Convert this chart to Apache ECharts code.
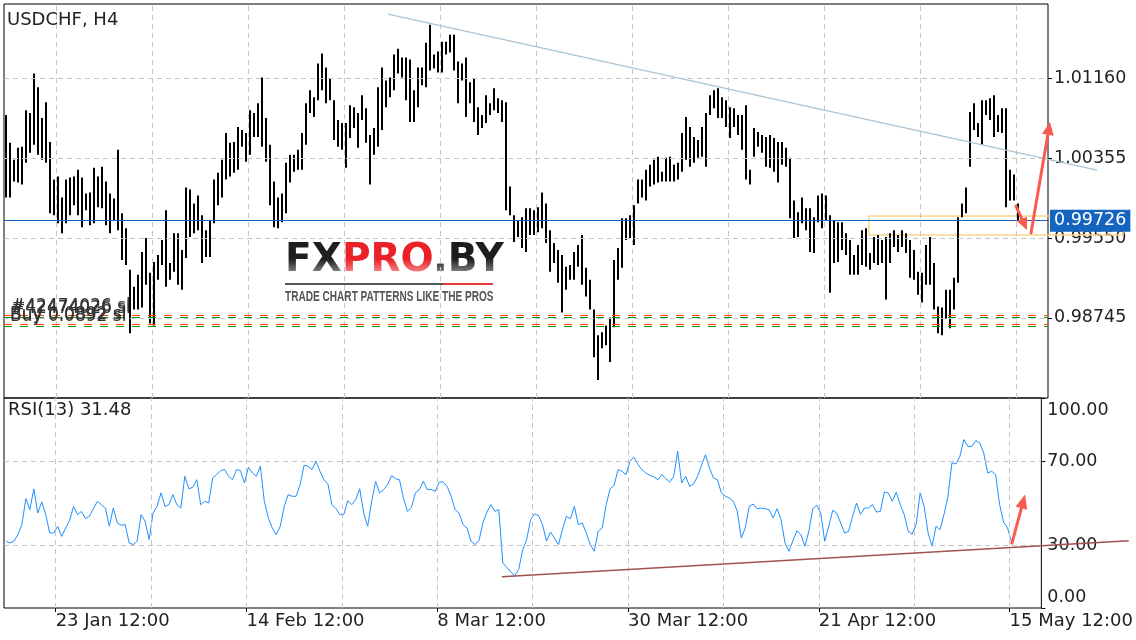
<!DOCTYPE html>
<html>
<head>
<meta charset="utf-8">
<script src="https://cdn.jsdelivr.net/npm/echarts@6/dist/echarts.min.js"></script>
<style>html,body{margin:0;padding:0;background:#fff}#chart{width:1136px;height:640px}</style>
</head>
<body>
<div id="chart"></div>
<script>
// ---- data (each bar = 2 H4 periods) ----
const barHigh = [
1.0079,1.0051,1.0034,1.0046,1.0047,1.0084,1.0081,1.0121,1.0107,1.0076,
1.0092,1.0052,1.0014,1.0017,0.9996,1.0014,1.0016,1.0017,1.0024,1.0016,
1.0000,1.0001,1.0026,1.0017,1.0027,1.0012,1.0000,0.9995,1.0044,0.9980,
0.9965,0.9923,0.9906,0.9918,0.9941,0.9955,0.9920,0.9931,0.9938,0.9953,
0.9983,0.9930,0.9960,0.9960,0.9943,1.0006,1.0004,0.9990,0.9998,0.9978,
0.9963,0.9973,1.0014,1.0021,1.0034,1.0061,1.0051,1.0052,1.0067,1.0064,
1.0061,1.0084,1.0081,1.0091,1.0117,1.0076,1.0049,1.0012,0.9996,1.0000,
1.0031,1.0039,1.0039,1.0044,1.0061,1.0091,1.0104,1.0097,1.0131,1.0141,
1.0127,1.0116,1.0094,1.0074,1.0071,1.0071,1.0089,1.0087,1.0081,1.0099,
1.0086,1.0059,1.0066,1.0107,1.0127,1.0114,1.0117,1.0140,1.0146,1.0137,
1.0137,1.0135,1.0104,1.0127,1.0127,1.0152,1.0170,1.0140,1.0143,1.0153,
1.0153,1.0160,1.0160,1.0133,1.0131,1.0137,1.0112,1.0116,1.0087,1.0079,
1.0099,1.0091,1.0106,1.0096,1.0094,1.0092,1.0007,0.9978,0.9973,0.9976,
0.9985,0.9985,0.9983,0.9986,1.0001,0.9990,0.9963,0.9950,0.9943,0.9938,
0.9926,0.9928,0.9941,0.9948,0.9958,0.9925,0.9913,0.9883,0.9857,0.9860,
0.9867,0.9875,0.9933,0.9945,0.9975,0.9975,0.9978,0.9988,1.0014,1.0014,
1.0024,1.0029,1.0034,1.0037,1.0022,1.0036,1.0037,1.0029,1.0031,1.0061,
1.0077,1.0067,1.0057,1.0054,1.0067,1.0081,1.0099,1.0104,1.0106,1.0097,
1.0094,1.0087,1.0086,1.0079,1.0079,1.0089,1.0024,1.0066,1.0062,1.0059,
1.0057,1.0059,1.0056,1.0052,1.0052,1.0046,1.0036,0.9993,0.9981,0.9996,
0.9985,0.9985,0.9976,0.9998,1.0000,0.9998,0.9978,0.9973,0.9971,0.9971,
0.9960,0.9953,0.9938,0.9948,0.9963,0.9965,0.9940,0.9956,0.9958,0.9953,
0.9956,0.9960,0.9963,0.9958,0.9963,0.9960,0.9953,0.9943,0.9921,0.9920,
0.9948,0.9956,0.9930,0.9886,0.9885,0.9903,0.9903,0.9915,0.9976,0.9990,
1.0006,1.0082,1.0091,1.0071,1.0094,1.0094,1.0096,1.0099,1.0079,1.0086,
1.0086,1.0024,1.0019,0.9990];
const barLow = [
0.9996,0.9996,1.0012,1.0011,1.0009,1.0031,1.0041,1.0049,1.0039,1.0034,
1.0031,0.9980,0.9978,0.9970,0.9960,0.9970,0.9978,0.9988,0.9978,0.9966,
0.9983,0.9968,0.9970,0.9986,0.9985,0.9968,0.9960,0.9973,0.9963,0.9933,
0.9928,0.9859,0.9883,0.9883,0.9885,0.9908,0.9869,0.9867,0.9913,0.9928,
0.9906,0.9913,0.9921,0.9908,0.9903,0.9935,0.9956,0.9960,0.9963,0.9930,
0.9936,0.9936,0.9970,0.9988,0.9996,1.0014,1.0017,1.0021,1.0024,1.0047,
1.0032,1.0039,1.0057,1.0057,1.0047,1.0032,0.9988,0.9966,0.9965,0.9971,
0.9980,1.0011,1.0022,1.0024,1.0024,1.0049,1.0081,1.0077,1.0094,1.0104,
1.0091,1.0094,1.0054,1.0047,1.0044,1.0026,1.0056,1.0066,1.0046,1.0074,
1.0051,1.0009,1.0039,1.0047,1.0064,1.0087,1.0097,1.0104,1.0121,1.0117,
1.0094,1.0072,1.0072,1.0087,1.0109,1.0107,1.0124,1.0126,1.0122,1.0122,
1.0140,1.0142,1.0124,1.0091,1.0114,1.0077,1.0091,1.0072,1.0059,1.0066,
1.0071,1.0079,1.0084,1.0081,1.0072,0.9983,0.9978,0.9951,0.9956,0.9945,
0.9941,0.9958,0.9958,0.9961,0.9965,0.9950,0.9921,0.9930,0.9910,0.9880,
0.9903,0.9913,0.9913,0.9926,0.9908,0.9896,0.9883,0.9835,0.9812,0.9844,
0.9847,0.9830,0.9865,0.9913,0.9925,0.9953,0.9955,0.9948,0.9990,0.9996,
0.9993,1.0007,1.0009,1.0011,1.0012,1.0012,1.0012,1.0012,1.0014,1.0022,
1.0034,1.0027,1.0031,1.0036,1.0037,1.0027,1.0079,1.0086,1.0076,1.0076,
1.0067,1.0056,1.0067,1.0059,1.0044,1.0014,1.0009,1.0037,1.0047,1.0041,
1.0027,1.0026,1.0022,1.0011,1.0029,1.0027,0.9975,0.9955,0.9956,0.9970,
0.9963,0.9941,0.9940,0.9971,0.9965,0.9973,0.9900,0.9930,0.9931,0.9943,
0.9938,0.9918,0.9918,0.9918,0.9928,0.9926,0.9923,0.9930,0.9928,0.9930,
0.9893,0.9930,0.9946,0.9941,0.9946,0.9940,0.9915,0.9913,0.9898,0.9890,
0.9908,0.9908,0.9883,0.9859,0.9857,0.9874,0.9864,0.9883,0.9910,0.9976,
0.9980,1.0027,1.0064,1.0057,1.0049,1.0079,1.0074,1.0057,1.0062,1.0061,
0.9986,0.9993,0.9993,0.9973];
const rsiValues = [
31.8,31.0,31.8,34.9,39.7,52.1,46.8,56.7,45.2,50.5,
44.5,35.7,35.7,38.9,34.1,38.1,41.6,48.4,44.5,46.0,
42.6,43.7,47.3,50.8,49.2,47.6,38.9,47.6,40.5,39.4,
39.7,31.0,30.2,31.8,44.5,41.3,32.6,45.2,48.4,54.8,
48.4,49.2,54.0,49.2,47.6,62.7,56.8,57.5,61.1,49.2,
50.8,50.0,61.9,63.5,65.4,65.9,62.7,61.1,65.9,65.4,
59.5,67.0,64.3,62.7,67.5,50.8,42.9,38.1,34.9,38.9,
48.4,54.0,53.2,53.2,58.7,68.0,67.5,65.9,69.9,65.1,
61.1,59.1,49.2,47.3,44.5,44.5,51.1,49.2,51.6,56.8,
45.2,38.9,50.8,60.3,54.8,56.4,58.7,63.0,61.6,61.1,
52.4,46.0,47.9,54.8,56.4,60.3,56.4,56.4,55.6,60.0,
60.0,57.9,53.2,46.8,45.2,39.7,38.1,31.8,30.2,32.1,
40.5,45.7,49.2,46.0,46.8,21.4,19.4,17.2,15.4,18.3,
27.8,32.6,42.1,44.8,44.0,39.7,31.8,36.2,33.3,30.2,
37.3,43.7,42.5,48.4,39.7,40.5,35.7,30.2,27.0,36.5,
38.1,49.2,56.7,58.4,65.9,65.1,63.5,69.9,71.8,68.3,
65.9,64.3,63.2,62.4,61.1,63.5,61.6,59.9,62.7,74.6,
59.5,62.7,57.9,59.1,62.7,68.0,73.0,66.7,61.9,61.1,
54.8,53.2,52.4,50.8,46.0,33.3,38.1,48.4,49.5,47.3,
47.6,47.3,46.8,42.9,47.3,42.1,31.0,27.0,32.1,36.8,
34.9,29.4,36.5,47.3,48.9,45.2,31.8,38.9,46.5,45.2,
40.5,35.7,36.5,43.7,50.0,44.5,47.6,47.6,49.2,45.7,
46.0,55.3,54.8,50.8,55.1,49.2,44.5,36.5,35.2,39.7,
54.8,48.4,35.7,29.4,38.9,37.3,44.5,53.2,69.1,68.6,
72.2,80.2,77.0,77.0,79.7,78.6,73.8,64.3,65.1,63.5,
49.2,40.9,38.1,31.48];

// x axis: H4 periods counted from "23 Jan 12:00"
const firstUnit = -25;
const unitStep = 2;
const tickUnits = [0, 96, 192, 288, 384, 480];
const tickLabels = ['23 Jan 12:00', '14 Feb 12:00', '8 Mar 12:00', '30 Mar 12:00', '21 Apr 12:00', '15 May 12:00'];
const gridUnits = [0, 48, 96, 144, 192, 240, 288, 336, 384, 432, 480];
const priceTicks = [0.98745, 0.99550, 1.00355, 1.01160];
const rsiTicks = [0, 30, 70, 100];
const rsiGrid = [30, 70];
const lastPrice = 0.99726;
const orderRed = [0.98772, 0.98684];
const orderGreen = [0.98752, 0.98664];
const orderTexts = ['#42474026 sl', 'Buy 0.0892 sl'];

// annotations (axis units, values)
const trendMain = [[166, 1.01809], [520.5, 1.00236]];
const trendRsi = [[224.5, 14.9], [540, 32.0]];
const arrowDown = [[480, 0.99873], [485.5, 0.99632]];
const arrowUp = [[487.5, 0.99601], [497, 1.0072]];
const arrowRsi = [[481.2, 30.9], [487.8, 54.0]];
const boxRange = [[406.5, 0.99773], [533.5, 0.99581]];

const FONT = 'DejaVu Sans';
const chart = echarts.init(document.getElementById('chart'), null, {width: 1136, height: 640});

const units = barHigh.map((_, i) => firstUnit + unitStep * i);
const barData = units.map((u, i) => [u, barLow[i], barHigh[i]]);
const rsiData = units.map((u, i) => [u, rsiValues[i]]);

const gridLine = {color: '#c4c4c4', type: [5, 4], width: 1};
const vLines = gridUnits.map(u => ({xAxis: u, lineStyle: gridLine}));
const labelText = {color: '#222', fontSize: 17.5, fontFamily: FONT};
const mlBase = {silent: true, symbol: ['none', 'none'], precision: 6, label: {show: false}, animation: false};

const option = {
  animation: false,
  backgroundColor: '#ffffff',
  textStyle: {fontFamily: FONT},
  grid: [
    {left: 4, top: 4, width: 1044, height: 394, show: true, borderColor: '#000', borderWidth: 1, backgroundColor: 'transparent'},
    {left: 4, top: 398, width: 1044, height: 210, show: true, borderColor: '#000', borderWidth: 1, backgroundColor: 'transparent'}
  ],
  xAxis: [
    {gridIndex: 0, type: 'value', min: -26, max: 496, axisLine: {show: false, onZero: false}, axisTick: {show: false}, axisLabel: {show: false}, splitLine: {show: false}},
    {gridIndex: 1, type: 'value', min: -26, max: 496, axisLine: {show: false, onZero: false},
     axisTick: {show: true, customValues: tickUnits, length: 4, lineStyle: {color: '#000'}},
     axisLabel: {customValues: tickUnits, formatter: v => tickLabels[tickUnits.indexOf(v)], align: 'left', margin: 4, color: '#222', fontSize: 18, fontFamily: FONT},
     splitLine: {show: false}}
  ],
  yAxis: [
    {gridIndex: 0, type: 'value', position: 'right', min: 0.97938, max: 1.01910, axisLine: {show: false, onZero: false},
     axisTick: {show: true, customValues: priceTicks, length: 4, lineStyle: {color: '#000'}},
     axisLabel: Object.assign({customValues: priceTicks, margin: 6, formatter: v => v.toFixed(5)}, labelText),
     splitLine: {show: false}},
    {gridIndex: 1, type: 'value', position: 'right', min: 0, max: 100, axisLine: {show: false, onZero: false},
     axisTick: {show: true, customValues: rsiTicks, length: 4, lineStyle: {color: '#000'}},
     axisLabel: Object.assign({customValues: rsiTicks, margin: 6,
       formatter: v => v === 100 ? '{t|100.00}' : (v === 0 ? '{b|0.00}' : '{n|' + v.toFixed(2) + '}'),
       rich: {t: Object.assign({padding: [24, 0, 0, 0]}, labelText), b: Object.assign({padding: [0, 0, 22, 0]}, labelText), n: Object.assign({}, labelText)}
     }, labelText),
     splitLine: {show: false}}
  ],
  series: [
    {type: 'line', name: 'grid0', xAxisIndex: 0, yAxisIndex: 0, data: [], silent: true, z: 1,
     markLine: Object.assign({}, mlBase, {data: priceTicks.map(v => ({yAxis: v, lineStyle: gridLine})).concat(vLines)})},
    {type: 'line', name: 'orders', xAxisIndex: 0, yAxisIndex: 0, data: [], silent: true, z: 6,
     markLine: Object.assign({}, mlBase, {
       data: orderRed.map(v => ({yAxis: v, lineStyle: {color: '#ff4500', type: [8, 8], width: 1}}))
         .concat(orderGreen.map(v => ({yAxis: v, lineStyle: {color: '#138a13', type: [8, 8], width: 1}})))
         .concat([{yAxis: lastPrice, lineStyle: {color: '#1565c0', type: 'solid', width: 1},
           label: {show: true, position: 'end', distance: 2, formatter: lastPrice.toFixed(5), color: '#fff',
             backgroundColor: '#1565c0', padding: [2, 4, 1, 4], fontSize: 17.5, fontFamily: FONT, lineHeight: 19}}])})},
    {type: 'custom', name: 'USDCHF', xAxisIndex: 0, yAxisIndex: 0, data: barData, z: 4,
     encode: {x: 0, y: [1, 2]},
     renderItem: (params, api) => {
       const u = api.value(0);
       const lo = api.coord([u, api.value(1)]);
       const hi = api.coord([u, api.value(2)]);
       return {type: 'line', shape: {x1: lo[0], y1: lo[1], x2: hi[0], y2: hi[1]}, style: {stroke: '#000', lineWidth: 2}};
     }},
    {type: 'line', name: 'grid1', xAxisIndex: 1, yAxisIndex: 1, data: [], silent: true, z: 1,
     markLine: Object.assign({}, mlBase, {data: rsiGrid.map(v => ({yAxis: v, lineStyle: gridLine})).concat(vLines)})},
    {type: 'line', name: 'RSI(13)', xAxisIndex: 1, yAxisIndex: 1, data: rsiData, showSymbol: false, z: 4,
     lineStyle: {color: '#1e90ff', width: 1}}
  ]
};
chart.setOption(option);

// ---- annotations positioned through the axes ----
const p0 = d => chart.convertToPixel({gridIndex: 0}, d);
const p1 = d => chart.convertToPixel({gridIndex: 1}, d);
function arrow(a, b, color, w, hl, hw) {
  const dx = b[0] - a[0], dy = b[1] - a[1], L = Math.hypot(dx, dy), ux = dx / L, uy = dy / L, px = -uy, py = ux;
  const base = [b[0] - ux * hl, b[1] - uy * hl];
  return [
    {type: 'line', z: 50, shape: {x1: a[0], y1: a[1], x2: base[0] + ux * 2, y2: base[1] + uy * 2}, style: {stroke: color, lineWidth: w, lineCap: 'round'}},
    {type: 'polygon', z: 50, shape: {points: [b, [base[0] + px * hw / 2, base[1] + py * hw / 2], [base[0] - px * hw / 2, base[1] - py * hw / 2]]}, style: {fill: color}}
  ];
}
const fade = new echarts.graphic.LinearGradient(0, 0, 0, 1, [{offset: 0, color: 'rgba(255,255,255,0)'}, {offset: 1, color: 'rgba(255,255,255,0.6)'}]);

const tm0 = p0(trendMain[0]), tm1 = p0(trendMain[1]);
const tr0 = p1(trendRsi[0]), tr1 = p1(trendRsi[1]);
const b0 = p0(boxRange[0]), b1 = p0(boxRange[1]);
const red1 = p0([0, orderRed[0]])[1], red2 = p0([0, orderRed[1]])[1];

const graphics = [
  // watermark
  {type: 'text', z: 0, x: 285, y: 261, style: {text: 'FX', font: 'bold 39px "DejaVu Sans"', fill: '#1e1e1e', verticalAlign: 'middle'}},
  {type: 'text', z: 0, x: 342, y: 261, style: {text: 'PRO', font: 'bold 39px "DejaVu Sans"', fill: '#ea2228', verticalAlign: 'middle'}},
  {type: 'text', z: 0, x: 433, y: 261, style: {text: '.BY', font: 'bold 39px "DejaVu Sans"', fill: '#1e1e1e', verticalAlign: 'middle'}},
  {type: 'rect', z: 0, shape: {x: 283, y: 259, width: 224, height: 18}, style: {fill: fade}},
  {type: 'rect', z: 0, shape: {x: 285, y: 283, width: 158, height: 2}, style: {fill: '#555'}},
  {type: 'rect', z: 0, shape: {x: 443, y: 283, width: 50, height: 2}, style: {fill: '#e8383a'}},
  {type: 'text', z: 0, x: 285, y: 297, scaleX: 0.72, style: {text: 'TRADE CHART PATTERNS LIKE THE PROS', font: 'bold 14px "Liberation Sans"', fill: '#555', verticalAlign: 'middle'}},
  // titles
  {type: 'text', z: 60, x: 7, y: 20.5, style: {text: 'USDCHF, H4', font: '18px "DejaVu Sans"', fill: '#222', verticalAlign: 'middle'}},
  {type: 'text', z: 60, x: 8, y: 410, style: {text: 'RSI(13) 31.48', font: '18px "DejaVu Sans"', fill: '#222', verticalAlign: 'middle'}},
  // order labels
  {type: 'text', z: 60, x: 11, y: red1 - 9, style: {text: orderTexts[0], font: '17px "DejaVu Sans"', fill: '#333', verticalAlign: 'middle'}},
  {type: 'text', z: 60, x: 11, y: red1 - 7, style: {text: orderTexts[0], font: '17px "DejaVu Sans"', fill: '#333', verticalAlign: 'middle'}},
  {type: 'text', z: 60, x: 10, y: red2 - 9, style: {text: orderTexts[1], font: '17px "DejaVu Sans"', fill: '#333', verticalAlign: 'middle'}},
  {type: 'text', z: 60, x: 10, y: red2 - 7, style: {text: orderTexts[1], font: '17px "DejaVu Sans"', fill: '#333', verticalAlign: 'middle'}},
  // yellow box
  {type: 'rect', z: 1, shape: {x: Math.min(b0[0], b1[0]), y: Math.min(b0[1], b1[1]), width: Math.abs(b1[0] - b0[0]), height: Math.abs(b1[1] - b0[1])},
   style: {fill: 'rgba(255,255,255,0)', stroke: '#f6d68c', lineWidth: 1.5}},
  // trend lines
  {type: 'line', z: 40, shape: {x1: tm0[0], y1: tm0[1], x2: tm1[0], y2: tm1[1]}, style: {stroke: '#a9c4d5', lineWidth: 1.3}},
  {type: 'line', z: 40, shape: {x1: tr0[0], y1: tr0[1], x2: tr1[0], y2: tr1[1]}, style: {stroke: '#a0524e', lineWidth: 1.5}}
]
.concat(arrow(p0(arrowDown[0]), p0(arrowDown[1]), '#fa5b4f', 3, 12, 11))
.concat(arrow(p0(arrowUp[0]), p0(arrowUp[1]), '#fa5b4f', 3, 13, 12))
.concat(arrow(p1(arrowRsi[0]), p1(arrowRsi[1]), '#fa5b4f', 3, 14, 12));

chart.setOption({graphic: graphics});
</script>
</body>
</html>
